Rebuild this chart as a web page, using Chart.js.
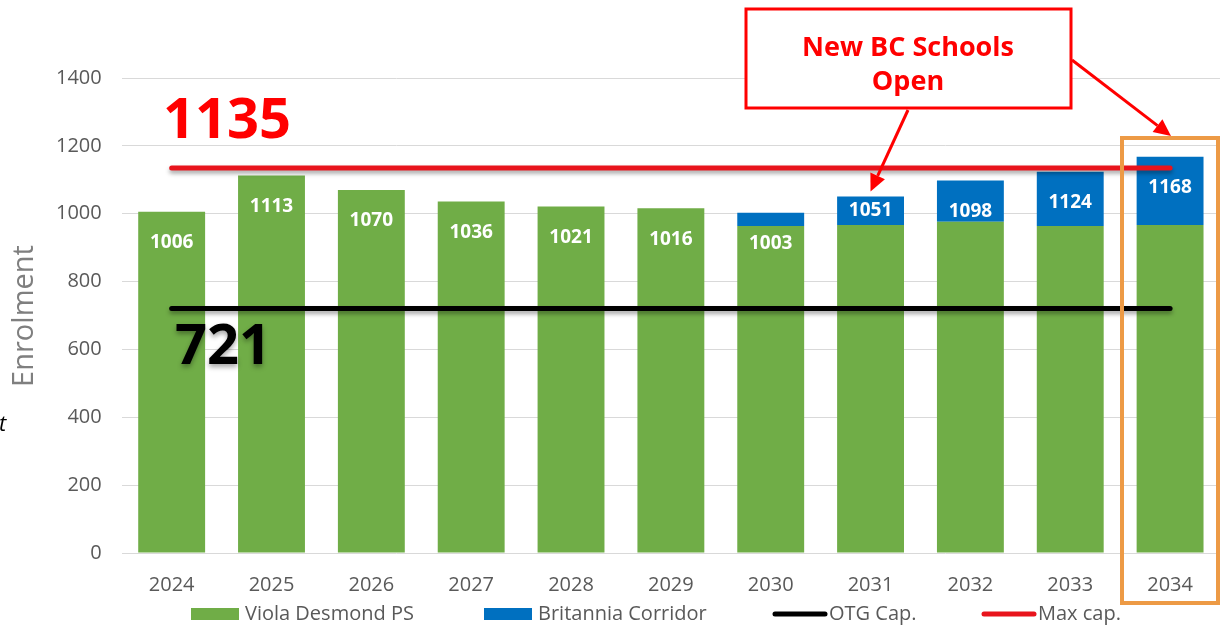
<!DOCTYPE html>
<html>
<head>
<meta charset="utf-8">
<script src="https://cdn.jsdelivr.net/npm/chart.js@4"></script>
<style>
    html, body { margin: 0; padding: 0; background: #ffffff; }
    #wrap { width: 1221px; height: 625px; position: relative; }
</style>
</head>
<body>
<div id="wrap"><canvas id="enrolChart" width="1221" height="625"></canvas></div>
<script>
// values
const years = ["2024", "2025", "2026", "2027", "2028", "2029", "2030", "2031", "2032", "2033", "2034"];
const violaDesmond = [1006, 1113, 1070, 1036, 1021, 1016, 964, 967, 976, 964, 967];
const britanniaCorridor = [0, 0, 0, 0, 0, 0, 39, 84, 122, 160, 201];
const otgCap = [721, 721, 721, 721, 721, 721, 721, 721, 721, 721, 721];
const maxCap = [1135, 1135, 1135, 1135, 1135, 1135, 1135, 1135, 1135, 1135, 1135];

const GREEN = "#70ad47";
const BLUE = "#0070c0";
const RED = "#e8141c";
const GREY_TEXT = "#595959";
const FONT = "'Open Sans', 'Noto Sans', sans-serif";

// shadow under the capacity lines
const lineShadow = {
    id: "lineShadow",
    beforeDatasetDraw(chart, args) {
        if (chart.data.datasets[args.index].type !== "line") return;
        const ctx = chart.ctx;
        ctx.save();
        ctx.shadowColor = "rgba(0,0,0,0.35)";
        ctx.shadowBlur = 4;
        ctx.shadowOffsetY = 3;
    },
    afterDatasetDraw(chart, args) {
        if (chart.data.datasets[args.index].type !== "line") return;
        chart.ctx.restore();
    },
};

// total enrolment written on every bar
const totalLabels = {
    id: "totalLabels",
    afterDatasetsDraw(chart) {
        const ctx = chart.ctx;
        const greenMeta = chart.getDatasetMeta(0);
        const blueMeta = chart.getDatasetMeta(1);
        ctx.save();
        ctx.fillStyle = "#ffffff";
        ctx.font = "bold 19px " + FONT;
        ctx.textAlign = "center";
        ctx.textBaseline = "middle";
        years.forEach((y, i) => {
            const total = violaDesmond[i] + britanniaCorridor[i];
            const g = greenMeta.data[i];
            const b = blueMeta.data[i];
            const top = britanniaCorridor[i] > 0 ? b.y : g.y;
            let ly = top + 31;
            if (britanniaCorridor[i] > 0 && Math.abs(ly - g.y) < 7) {
                ly = (b.y + g.y) / 2;
            }
            ctx.fillText(String(total), g.x, ly);
        });
        ctx.restore();
    },
};

function arrow(ctx, x1, y1, x2, y2) {
    const ang = Math.atan2(y2 - y1, x2 - x1);
    const len = 17, half = 8;
    const bx = x2 - Math.cos(ang) * len;
    const by = y2 - Math.sin(ang) * len;
    ctx.beginPath();
    ctx.moveTo(x1, y1);
    ctx.lineTo(bx, by);
    ctx.stroke();
    ctx.beginPath();
    ctx.moveTo(x2, y2);
    ctx.lineTo(bx + Math.sin(ang) * half, by - Math.cos(ang) * half);
    ctx.lineTo(bx - Math.sin(ang) * half, by + Math.cos(ang) * half);
    ctx.closePath();
    ctx.fill();
}

// annotations, axis title and legend
const extras = {
    id: "extras",
    afterDraw(chart) {
        const ctx = chart.ctx;
        ctx.save();

        // big capacity numbers
        ctx.textAlign = "left";
        ctx.textBaseline = "alphabetic";
        ctx.font = "bold 56px " + FONT;
        ctx.fillStyle = "#ff0000";
        ctx.fillText(String(maxCap[0]), 163, 138);
        ctx.save();
        ctx.shadowColor = "rgba(0,0,0,0.35)";
        ctx.shadowBlur = 5;
        ctx.shadowOffsetY = 3;
        ctx.fillStyle = "#000000";
        ctx.fillText(String(otgCap[0]), 175, 364);
        ctx.restore();

        // callout box
        ctx.fillStyle = "#ffffff";
        ctx.fillRect(746, 9, 325, 99);
        ctx.strokeStyle = "#ff0000";
        ctx.lineWidth = 3;
        ctx.strokeRect(746, 9, 325, 99);
        ctx.fillStyle = "#ff0000";
        ctx.font = "bold 27px " + FONT;
        ctx.textAlign = "center";
        ctx.fillText("New BC Schools", 908, 56);
        ctx.fillText("Open", 908, 90);

        // arrows
        const x2031 = chart.scales.x.getPixelForValue(7);
        const b2031 = chart.getDatasetMeta(1).data[7];
        ctx.lineWidth = 3;
        arrow(ctx, 908, 110, x2031, b2031.y - 5);
        arrow(ctx, 1072, 60, 1171, 136);

        // orange highlight on the last year
        ctx.strokeStyle = "#ed9a45";
        ctx.lineWidth = 4;
        ctx.strokeRect(1122, 138, 96, 465);

        // y axis title
        ctx.save();
        ctx.translate(25, 316);
        ctx.rotate(-Math.PI / 2);
        ctx.fillStyle = "#7f7f7f";
        ctx.font = "29px " + FONT;
        ctx.textAlign = "center";
        ctx.textBaseline = "middle";
        ctx.fillText("Enrolment", 0, 0);
        ctx.restore();

        // clipped text at the left edge
        ctx.fillStyle = "#000000";
        ctx.font = "italic 22px " + FONT;
        ctx.textAlign = "left";
        ctx.fillText("t", -1, 431);

        // legend
        const ds = chart.data.datasets;
        const boxX = [191, 484, 773, 982];
        const ly = 614;
        ctx.font = "20px " + FONT;
        ctx.textBaseline = "middle";
        ds.forEach((d, i) => {
            const x = boxX[i];
            if (d.type === "line") {
                ctx.strokeStyle = d.borderColor;
                ctx.lineWidth = 5;
                ctx.lineCap = "round";
                ctx.beginPath();
                ctx.moveTo(x + 2, ly);
                ctx.lineTo(x + 52, ly);
                ctx.stroke();
                ctx.fillStyle = GREY_TEXT;
                ctx.fillText(d.label, x + 56, ly);
            } else {
                ctx.fillStyle = d.backgroundColor;
                ctx.fillRect(x, ly - 6, 48, 12);
                ctx.fillStyle = GREY_TEXT;
                ctx.fillText(d.label, x + 54, ly);
            }
        });
        ctx.restore();
    },
};

new Chart(document.getElementById("enrolChart"), {
    data: {
        labels: years,
        datasets: [
            {
                type: "bar",
                label: "Viola Desmond PS",
                data: violaDesmond,
                backgroundColor: GREEN,
                stack: "enrol",
                order: 2,
                barPercentage: 0.67,
                categoryPercentage: 1,
            },
            {
                type: "bar",
                label: "Britannia Corridor",
                data: britanniaCorridor,
                backgroundColor: BLUE,
                stack: "enrol",
                order: 2,
                barPercentage: 0.67,
                categoryPercentage: 1,
            },
            {
                type: "line",
                label: "OTG Cap.",
                data: otgCap,
                borderColor: "#000000",
                backgroundColor: "#000000",
                borderWidth: 5,
                borderCapStyle: "round",
                pointRadius: 0,
                stack: "otg",
                order: 1,
            },
            {
                type: "line",
                label: "Max cap.",
                data: maxCap,
                borderColor: RED,
                backgroundColor: RED,
                borderWidth: 5,
                borderCapStyle: "round",
                pointRadius: 0,
                stack: "max",
                order: 0,
            },
        ],
    },
    options: {
        responsive: false,
        animation: false,
        devicePixelRatio: 1,
        layout: { padding: { left: 36, right: 1, top: 78, bottom: 16 } },
        plugins: {
            legend: { display: false },
            tooltip: { enabled: false },
        },
        scales: {
            x: {
                stacked: true,
                grid: { display: false },
                border: { display: false },
                ticks: {
                    color: GREY_TEXT,
                    font: { family: FONT, size: 20 },
                    padding: 12,
                },
            },
            y: {
                stacked: true,
                min: 0,
                max: 1400,
                ticks: {
                    stepSize: 200,
                    color: GREY_TEXT,
                    font: { family: FONT, size: 20 },
                    padding: 20,
                    callback: (v) => String(v),
                },
                grid: { color: "#d9d9d9", lineWidth: 1, drawTicks: false },
                border: { display: false },
            },
        },
    },
    plugins: [lineShadow, totalLabels, extras],
});
</script>
</body>
</html>
